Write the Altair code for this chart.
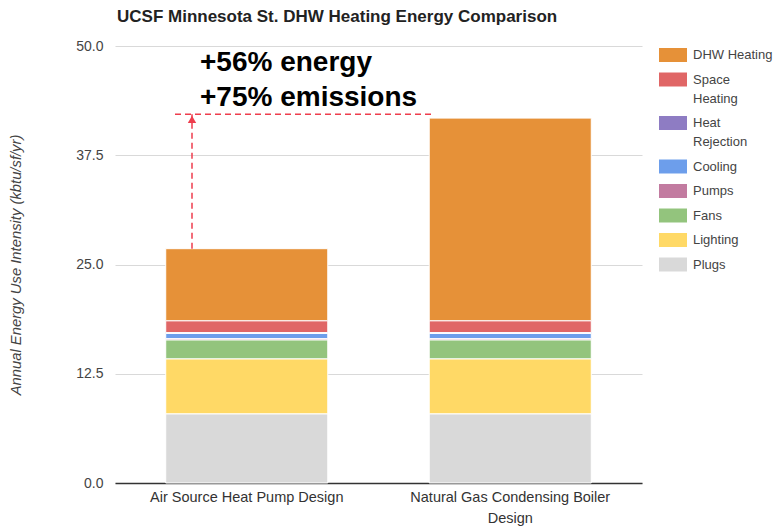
import altair as alt
import pandas as pd

designs = ["Air Source Heat Pump Design", "Natural Gas Condensing Boiler Design"]
categories = ["DHW Heating", "Space Heating", "Heat Rejection", "Cooling", "Pumps", "Fans", "Lighting", "Plugs"]
colors = ["#e69138", "#e06666", "#8e7cc3", "#6d9eeb", "#c27ba0", "#93c47d", "#ffd966", "#d9d9d9"]
# values per category (same order as categories), for each design
ashp_values = [8.26, 1.34, 0.10, 0.60, 0.15, 2.17, 6.29, 7.90]
boiler_values = [23.20, 1.34, 0.10, 0.60, 0.15, 2.17, 6.29, 7.90]

rows = []
for d, vals in zip(designs, [ashp_values, boiler_values]):
    for i, (c, v) in enumerate(zip(categories, vals)):
        rows.append({"design": d, "category": c, "value": v, "stack": len(categories) - i})
df = pd.DataFrame(rows)

# annotation values (in kbtu/sf/yr units)
ref_line_y = [42.2]
arrow_from = [26.8]
arrow_to = [42.2]
ann_text = ["+56% energy", "+75% emissions"]
ann_text_y = [48.0, 44.1]

FONT = "Liberation Sans"
RED = "#ee3d4d"

bars = alt.Chart(df).mark_bar(stroke="white", strokeWidth=1).encode(
    x=alt.X("design:N", sort=designs,
            scale=alt.Scale(paddingInner=0.385, paddingOuter=0.1925),
            axis=alt.Axis(title=None, labelAngle=0, ticks=False, domainColor="#333", domainWidth=1.5,
                          labelColor="#333", labelFontSize=14.5, labelFont=FONT, labelPadding=7,
                          labelLineHeight=21, labelLimit=300,
                          labelExpr="datum.label == 'Natural Gas Condensing Boiler Design' ? ['Natural Gas Condensing Boiler', 'Design'] : datum.label")),
    y=alt.Y("value:Q", stack="zero",
            scale=alt.Scale(domain=[0, 50], nice=False),
            axis=alt.Axis(title="Annual Energy Use Intensity (kbtu/sf/yr)", values=[0, 12.5, 25, 37.5, 50],
                          format=".1f", ticks=False, domain=False, gridColor="#d9d9d9",
                          labelColor="#444", labelFontSize=14, labelFont=FONT, labelPadding=12,
                          titleFont=FONT, titleFontSize=14.8, titleFontStyle="italic", titleFontWeight="normal",
                          titleColor="#444", titlePadding=52)),
    color=alt.Color("category:N", scale=alt.Scale(domain=categories, range=colors),
                    legend=alt.Legend(title=None, orient="right", offset=22,
                                      symbolType="M-2,-1H2V1H-2Z", symbolSize=196, symbolStrokeWidth=0,
                                      symbolOpacity=1, labelFontSize=13, labelFont=FONT, labelColor="#444",
                                      labelOffset=13, labelLimit=200, rowPadding=10.5, padding=2,
                                      labelExpr="datum.label == 'Space Heating' ? ['Space', 'Heating'] : datum.label == 'Heat Rejection' ? ['Heat', 'Rejection'] : datum.label")),
    order=alt.Order("stack:Q", sort="ascending"),
)

ref_rule = alt.Chart(pd.DataFrame({"y": ref_line_y})).mark_rule(
    color=RED, strokeDash=[6, 4], strokeWidth=1.5
).encode(x=alt.value(60), x2=alt.value(317), y="y:Q")

arrow_df = pd.DataFrame({"y1": arrow_from, "y2": arrow_to})
arrow = alt.Chart(arrow_df).mark_rule(
    color=RED, strokeDash=[6, 4], strokeWidth=1.5
).encode(x=alt.value(77), y="y1:Q", y2="y2:Q")

head = alt.Chart(pd.DataFrame({"y": [41.6]})).mark_point(
    shape="triangle-up", filled=True, color=RED, size=70, opacity=1
).encode(x=alt.value(77), y="y:Q")

text = alt.Chart(pd.DataFrame({"t": ann_text, "y": ann_text_y})).mark_text(
    align="left", baseline="middle", fontSize=28, fontWeight="bold", font=FONT, color="black"
).encode(x=alt.value(85), y="y:Q", text="t:N")

chart = alt.layer(bars, ref_rule, arrow, head, text).properties(
    width=527, height=437,
    padding={"left": 107, "top": 38, "right": 133, "bottom": 43},
    autosize=alt.AutoSizeParams(type="none"),
    title=alt.TitleParams("UCSF Minnesota St. DHW Heating Energy Comparison", anchor="start", frame="group",
                          fontSize=17, fontWeight="bold", font=FONT, color="#222", offset=13, dx=2),
).configure(style={"guide-label": {"lineHeight": 19}}).configure_view(stroke=None)

chart.save("out.html", embed_options={"renderer": "svg", "actions": False})
